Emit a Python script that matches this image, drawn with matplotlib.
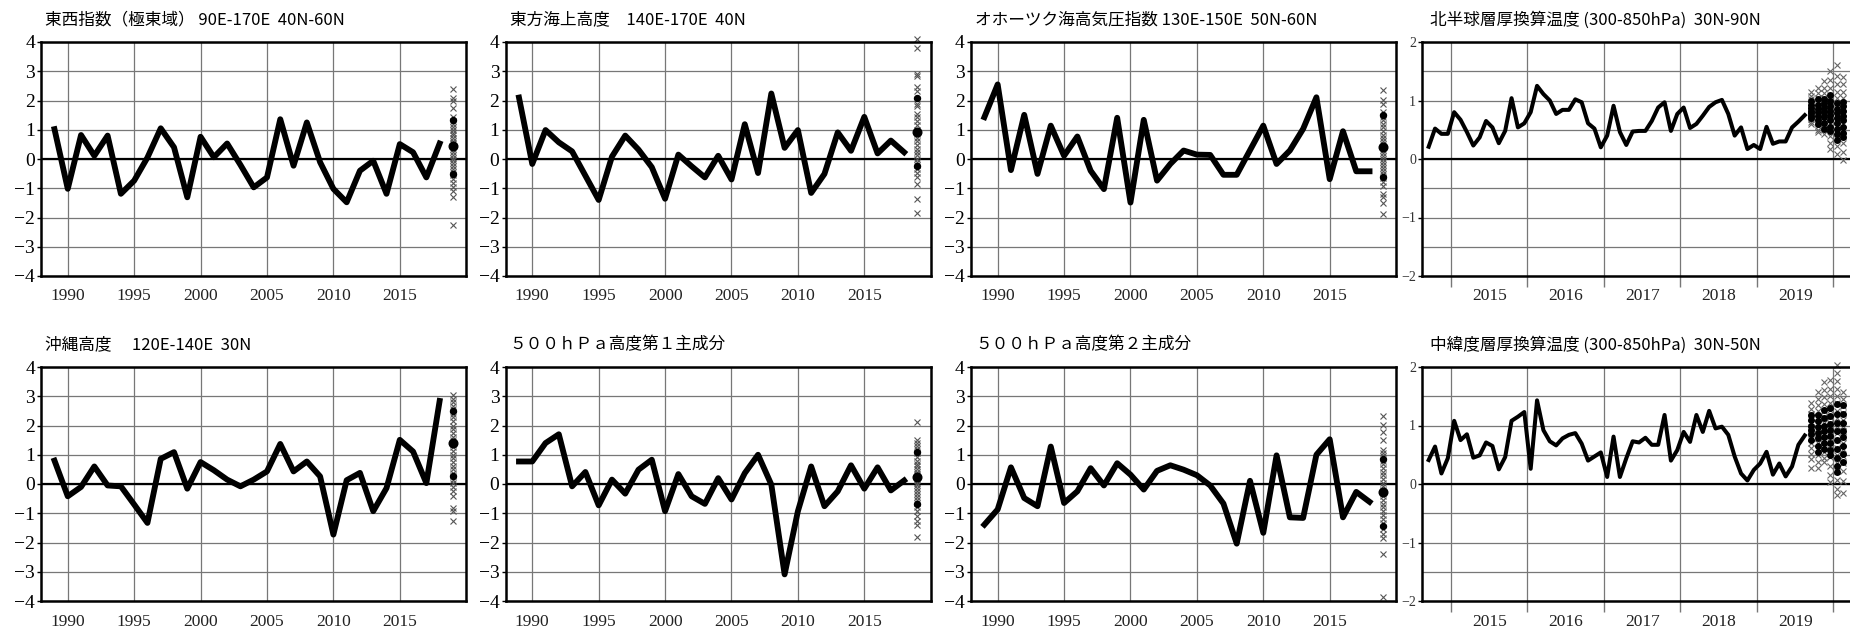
import numpy as np
import pandas as pd
import matplotlib
matplotlib.use('Agg')
import matplotlib.pyplot as plt

plt.rcParams['font.family'] = ['Liberation Serif', 'DejaVu Serif']
JP = ['Noto Sans CJK JP', 'DejaVu Sans']

# ---- annual indices 1989-2018, forecast at 2019
years = np.arange(1989, 2019)
fcst_year = 2019

ew_index = [1.02, -1.02, 0.82, 0.11, 0.8, -1.19, -0.74, 0.05, 1.05, 0.4,
            -1.31, 0.76, 0.06, 0.53, -0.2, -0.97, -0.63, 1.36, -0.23, 1.25,
            -0.11, -1.02, -1.48, -0.4, -0.06, -1.19, 0.51, 0.23, -0.63, 0.53]
ew_members = [2.4, 2.1, 1.98, 1.75, 1.45, 1.3, 1.2, 1.1, 1.0, 0.9, 0.82, 0.72,
              0.62, 0.55, 0.45, 0.35, 0.25, 0.15, 0.05, -0.05, -0.15, -0.25,
              -0.35, -0.45, -0.55, -0.68, -0.82, -0.95, -1.08, -1.3, -2.25]
ew_dots = [1.34, 0.43, -0.51]

east_sea = [2.1, -0.17, 0.99, 0.57, 0.26, -0.57, -1.4, 0.08, 0.8, 0.32,
            -0.28, -1.36, 0.15, -0.25, -0.63, 0.11, -0.7, 1.19, -0.48, 2.24,
            0.38, 0.99, -1.16, -0.51, 0.91, 0.28, 1.44, 0.19, 0.63, 0.23]
east_members = [4.1, 3.78, 2.9, 2.85, 2.47, 2.33, 1.88, 1.82, 1.53, 1.42, 1.3,
                1.15, 1.0, 0.85, 0.72, 0.6, 0.48, 0.35, 0.25, 0.12, 0.0, -0.1,
                -0.22, -0.35, -0.48, -0.62, -0.85, -1.36, -1.84]
east_dots = [2.1, 0.93, -0.25]

okhotsk = [1.43, 2.55, -0.38, 1.51, -0.51, 1.14, 0.11, 0.77, -0.4, -1.03,
           1.41, -1.49, 1.34, -0.74, -0.17, 0.29, 0.15, 0.14, -0.54, -0.54,
           0.3, 1.14, -0.17, 0.29, 1.03, 2.11, -0.69, 0.95, -0.42, -0.42]
okh_members = [2.37, 2.03, 1.89, 1.6, 1.45, 1.32, 1.2, 1.08, 0.95, 0.83, 0.72,
               0.6, 0.5, 0.4, 0.3, 0.2, 0.1, 0.0, -0.1, -0.2, -0.3, -0.4,
               -0.52, -0.65, -0.78, -0.91, -1.2, -1.31, -1.52, -1.89]
okh_dots = [1.49, 0.42, -0.63]

okinawa = [0.8, -0.42, -0.1, 0.6, -0.05, -0.08, -0.7, -1.33, 0.86, 1.09,
           -0.16, 0.75, 0.47, 0.15, -0.08, 0.15, 0.43, 1.37, 0.43, 0.77,
           0.26, -1.73, 0.13, 0.38, -0.93, -0.14, 1.51, 1.11, 0.03, 2.84]
oki_members = [3.05, 2.9, 2.82, 2.68, 2.55, 2.4, 2.28, 2.15, 2.0, 1.88, 1.75,
               1.62, 1.5, 1.38, 1.25, 1.12, 1.0, 0.88, 0.75, 0.62, 0.5, 0.38,
               0.26, 0.15, 0.02, -0.1, -0.25, -0.42, -0.82, -0.93, -1.27]
oki_dots = [2.51, 1.4, 0.26]

pc1 = [0.77, 0.77, 1.4, 1.7, -0.08, 0.41, -0.73, 0.15, -0.33, 0.49,
       0.83, -0.93, 0.34, -0.42, -0.68, 0.2, -0.53, 0.37, 1.0, -0.02,
       -3.09, -0.93, 0.6, -0.76, -0.25, 0.64, -0.16, 0.57, -0.22, 0.12]
pc1_members = [2.11, 1.51, 1.4, 1.3, 1.18, 1.05, 0.92, 0.8, 0.7, 0.6, 0.5,
               0.42, 0.35, 0.28, 0.2, 0.12, 0.05, -0.05, -0.15, -0.25, -0.35,
               -0.45, -0.55, -0.65, -0.78, -0.93, -1.1, -1.27, -1.41, -1.82]
pc1_dots = [1.11, 0.23, -0.67]

pc2 = [-1.39, -0.87, 0.57, -0.48, -0.76, 1.28, -0.65, -0.25, 0.54, -0.05,
       0.71, 0.32, -0.19, 0.45, 0.64, 0.49, 0.3, -0.05, -0.67, -2.04,
       0.11, -1.67, 0.98, -1.14, -1.16, 1.0, 1.53, -1.14, -0.27, -0.61]
pc2_members = [2.34, 2.02, 1.77, 1.51, 1.17, 1.05, 0.95, 0.8, 0.68, 0.55, 0.42,
               0.3, 0.18, 0.05, -0.08, -0.2, -0.3, -0.42, -0.55, -0.68, -0.8,
               -0.92, -1.05, -1.2, -1.33, -1.55, -1.72, -1.84, -2.41, -3.88]
pc2_dots = [0.85, -0.28, -1.42]

# ---- monthly thickness temperatures, Sep 2014 - Aug 2019, forecast Sep 2019 - Feb 2020
months = pd.period_range('2014-09', periods=60, freq='M')
fc_months = pd.period_range('2019-09', periods=6, freq='M')

nh_temp = [0.21, 0.52, 0.43, 0.43, 0.8, 0.67, 0.46, 0.23, 0.37, 0.65,
           0.54, 0.27, 0.48, 1.04, 0.54, 0.61, 0.8, 1.25, 1.11, 1.0,
           0.77, 0.84, 0.84, 1.02, 0.97, 0.61, 0.52, 0.2, 0.4, 0.91,
           0.46, 0.24, 0.47, 0.48, 0.48, 0.65, 0.88, 0.97, 0.48, 0.77,
           0.88, 0.53, 0.6, 0.74, 0.89, 0.97, 1.01, 0.77, 0.4, 0.54,
           0.17, 0.24, 0.17, 0.55, 0.26, 0.3, 0.3, 0.54, 0.64, 0.75]
nh_members = [
    [1.14, 1.08, 1.02, 0.97, 0.92, 0.88, 0.84, 0.8, 0.76, 0.72, 0.68, 0.64, 0.6],
    [1.22, 1.12, 1.05, 0.98, 0.92, 0.86, 0.8, 0.74, 0.68, 0.62, 0.56, 0.5, 0.46],
    [1.34, 1.22, 1.12, 1.04, 0.96, 0.9, 0.84, 0.78, 0.72, 0.66, 0.6, 0.52, 0.43],
    [1.5, 1.35, 1.22, 1.1, 1.0, 0.92, 0.85, 0.78, 0.7, 0.62, 0.52, 0.4, 0.28, 0.17],
    [1.6, 1.42, 1.28, 1.15, 1.05, 0.95, 0.85, 0.75, 0.65, 0.55, 0.45, 0.35, 0.22, 0.08],
    [1.4, 1.28, 1.15, 1.05, 0.95, 0.86, 0.78, 0.7, 0.6, 0.5, 0.4, 0.28, 0.12, -0.02],
]
nh_dots = [
    [1.0, 0.93, 0.87, 0.82, 0.78, 0.74, 0.7],
    [1.02, 0.93, 0.86, 0.8, 0.73, 0.66, 0.6],
    [1.03, 0.95, 0.88, 0.8, 0.72, 0.62, 0.52],
    [1.1, 1.0, 0.9, 0.82, 0.75, 0.66, 0.55, 0.48],
    [0.95, 0.86, 0.78, 0.7, 0.62, 0.52, 0.42, 0.32],
    [0.98, 0.9, 0.82, 0.74, 0.66, 0.55, 0.45, 0.38],
]

ml_temp = [0.41, 0.64, 0.18, 0.44, 1.08, 0.75, 0.85, 0.45, 0.49, 0.71,
           0.65, 0.25, 0.46, 1.08, 1.15, 1.23, 0.26, 1.43, 0.92, 0.73,
           0.66, 0.78, 0.84, 0.87, 0.69, 0.4, 0.47, 0.54, 0.12, 0.81,
           0.12, 0.44, 0.73, 0.71, 0.79, 0.67, 0.67, 1.18, 0.4, 0.58,
           0.89, 0.72, 1.18, 0.89, 1.25, 0.95, 0.98, 0.84, 0.47, 0.18,
           0.06, 0.24, 0.35, 0.55, 0.16, 0.35, 0.13, 0.3, 0.67, 0.83]
ml_members = [
    [1.38, 1.28, 1.2, 1.12, 1.05, 0.98, 0.92, 0.85, 0.78, 0.7, 0.62, 0.52, 0.42, 0.27],
    [1.57, 1.45, 1.35, 1.25, 1.15, 1.05, 0.95, 0.86, 0.78, 0.7, 0.6, 0.5, 0.38, 0.27],
    [1.74, 1.6, 1.48, 1.36, 1.25, 1.15, 1.05, 0.95, 0.85, 0.75, 0.65, 0.55, 0.45, 0.38],
    [1.77, 1.62, 1.5, 1.38, 1.26, 1.15, 1.04, 0.94, 0.84, 0.72, 0.6, 0.46, 0.3, 0.15, 0.04],
    [2.03, 1.9, 1.76, 1.62, 1.5, 1.38, 1.25, 1.12, 1.0, 0.88, 0.75, 0.62, 0.5, 0.36,
     0.22, 0.06, -0.08, -0.18],
    [1.57, 1.45, 1.33, 1.22, 1.1, 1.0, 0.9, 0.8, 0.7, 0.6, 0.48, 0.36, 0.22, 0.05, -0.16],
]
ml_dots = [
    [1.18, 1.1, 1.0, 0.92, 0.85, 0.75],
    [1.18, 1.08, 0.98, 0.88, 0.78, 0.65, 0.55],
    [1.26, 1.12, 1.0, 0.9, 0.8, 0.7, 0.6],
    [1.3, 1.16, 1.03, 0.92, 0.82, 0.7, 0.58, 0.5],
    [1.37, 1.2, 1.05, 0.9, 0.75, 0.6, 0.45, 0.3, 0.21],
    [1.35, 1.2, 1.05, 0.9, 0.8, 0.65, 0.52, 0.38],
]

W, H = 1850, 629
fig = plt.figure(figsize=(W / 100, H / 100), dpi=100)

GRID = '#777777'


def frame(ax):
    for s in ax.spines.values():
        s.set_linewidth(1.8)
        s.set_zorder(6)


def annual(left, top, title, values, members, dots):
    ax = fig.add_axes([left / W, 1 - (top + 234) / H, 425 / W, 234 / H])
    ax.plot(years, values, color='k', lw=4.2, zorder=3)
    ax.plot([fcst_year] * len(members), members, ls='none', marker='x', ms=3.8,
            mew=0.8, color='#555555', clip_on=False, zorder=4)
    ax.plot([fcst_year] * len(dots), dots, ls='none', marker='o', ms=4.3,
            color='k', clip_on=False, zorder=5)
    ax.plot([fcst_year], [dots[1]], ls='none', marker='o', ms=6.2, color='k', zorder=5)
    ax.set_xlim(1988, 2020)
    ax.set_ylim(-4, 4)
    ax.set_xticks(range(1990, 2016, 5))
    ax.set_yticks(range(-4, 5))
    ax.grid(True, color=GRID, lw=0.9)
    ax.axhline(0, color='k', lw=1.6, zorder=2)
    ax.tick_params(axis='x', length=0, pad=9, labelsize=12.5, labelcolor='#222222')
    ax.tick_params(axis='y', length=3, width=1, pad=1.5, labelsize=14)
    frame(ax)
    fig.text((left + 4) / W, 1 - (top - 22) / H, title, family=JP, fontsize=12, va='center')
    return ax


def monthly(top, title, values, members, dots):
    ax = fig.add_axes([1422.3 / W, 1 - (top + 234) / H, 430.3 / W, 234 / H])
    mx = months.year + (months.month - 0.5) / 12
    fx = fc_months.year + (fc_months.month - 0.5) / 12
    ax.plot(mx, values, color='k', lw=2.9, zorder=3)
    for x, mem, d in zip(fx, members, dots):
        ax.plot([x] * len(mem), mem, ls='none', marker='x', ms=3.8, mew=0.8,
                color='#666666', clip_on=False, zorder=4)
        ax.plot([x] * len(d), d, ls='none', marker='o', ms=4,
                color='k', clip_on=False, zorder=5)
    ax.set_xlim(2014.625, 2020.25)
    ax.set_ylim(-2, 2)
    ax.set_xticks(range(2015, 2021))
    ax.set_xticklabels([])
    ax.set_xticks(np.arange(2015.5, 2020, 1), minor=True)
    ax.set_xticklabels([str(y) for y in range(2015, 2020)], minor=True)
    ax.set_yticks(range(-2, 3))
    ax.set_yticks([-1.5, -0.5, 0.5, 1.5], minor=True)
    ax.yaxis.grid(True, which='both', color=GRID, lw=0.9)
    ax.xaxis.grid(True, which='major', color=GRID, lw=0.9)
    ax.axhline(0, color='k', lw=1.6, zorder=2)
    ax.tick_params(axis='x', which='major', length=8, width=1, color=GRID)
    ax.tick_params(axis='x', which='minor', length=0, pad=9, labelsize=12.5,
                   labelcolor='#222222')
    ax.tick_params(axis='y', which='major', length=3, width=1, pad=1.5,
                   labelsize=10, labelcolor='#333333')
    ax.tick_params(axis='y', which='minor', length=0)
    frame(ax)
    fig.text(1430 / W, 1 - (top - 22) / H, title, family=JP, fontsize=12, va='center')
    return ax


annual(41.2, 42, '東西指数（極東域） 90E-170E  40N-60N', ew_index, ew_members, ew_dots)
annual(505.7, 42, '東方海上高度　140E-170E  40N', east_sea, east_members, east_dots)
annual(971.1, 42, 'オホーツク海高気圧指数 130E-150E  50N-60N', okhotsk, okh_members, okh_dots)
monthly(42, '北半球層厚換算温度 (300-850hPa)  30N-90N', nh_temp, nh_members, nh_dots)

annual(41.2, 367, '沖縄高度　 120E-140E  30N', okinawa, oki_members, oki_dots)
annual(505.7, 367, '５００ｈＰａ高度第１主成分', pc1, pc1_members, pc1_dots)
annual(971.1, 367, '５００ｈＰａ高度第２主成分', pc2, pc2_members, pc2_dots)
monthly(367, '中緯度層厚換算温度 (300-850hPa)  30N-50N', ml_temp, ml_members, ml_dots)

fig.savefig('out.png', dpi=100)
